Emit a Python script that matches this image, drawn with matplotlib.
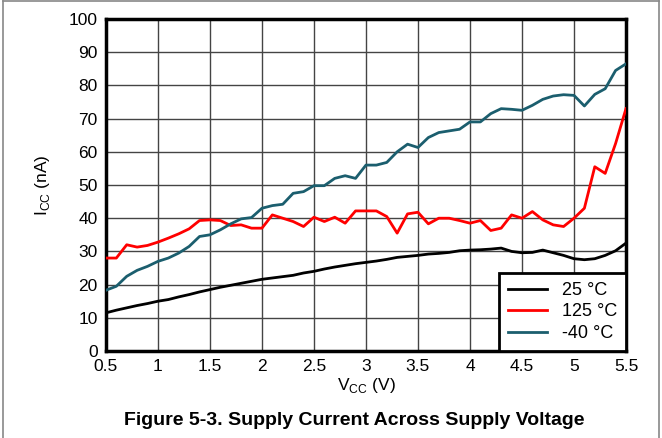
import numpy as np
import matplotlib
matplotlib.use("Agg")
import matplotlib.pyplot as plt
from matplotlib.lines import Line2D

plt.rcParams['font.family'] = ['Liberation Sans', 'DejaVu Sans']
plt.rcParams['mathtext.fontset'] = 'custom'
plt.rcParams['mathtext.rm'] = 'Liberation Sans'

# -----------------------------
# DATA
# -----------------------------

vcc = [0.5, 0.6, 0.7, 0.8, 0.9, 1.0, 1.1, 1.2, 1.3, 1.4,
       1.5, 1.6, 1.7, 1.8, 1.9, 2.0, 2.1, 2.2, 2.3, 2.4,
       2.5, 2.6, 2.7, 2.8, 2.9, 3.0, 3.1, 3.2, 3.3, 3.4,
       3.5, 3.6, 3.7, 3.8, 3.9, 4.0, 4.1, 4.2, 4.3, 4.4,
       4.5, 4.6, 4.7, 4.8, 4.9, 5.0, 5.1, 5.2, 5.3, 5.4, 5.5]

icc_25 = [11.5, 12.3, 13.0, 13.7, 14.3, 15.0, 15.5, 16.3, 17.0, 17.8,
          18.5, 19.2, 19.8, 20.4, 21.0, 21.6, 22.0, 22.4, 22.8, 23.5,
          24.0, 24.7, 25.3, 25.8, 26.3, 26.7, 27.1, 27.6, 28.2, 28.5,
          28.8, 29.2, 29.4, 29.7, 30.2, 30.4, 30.5, 30.7, 31.0, 30.0,
          29.6, 29.7, 30.4, 29.6, 28.8, 27.8, 27.5, 27.8, 28.8, 30.2, 32.5]

icc_125 = [28.0, 28.0, 32.0, 31.3, 31.8, 32.8, 34.0, 35.3, 36.8, 39.3,
           39.5, 39.3, 37.8, 38.0, 37.0, 37.0, 41.0, 40.0, 39.0, 37.5,
           40.3, 39.0, 40.3, 38.5, 42.2, 42.2, 42.2, 40.5, 35.5, 41.3,
           41.8, 38.3, 40.0, 40.0, 39.3, 38.5, 39.3, 36.3, 37.0, 41.0,
           40.0, 42.0, 39.5, 38.0, 37.5, 40.0, 43.0, 55.5, 53.5, 62.5, 73.0]

icc_m40 = [18.3, 19.5, 22.5, 24.3, 25.5, 27.0, 28.0, 29.5, 31.5, 34.5,
           35.0, 36.5, 38.3, 39.8, 40.2, 43.0, 43.8, 44.2, 47.5, 48.0,
           49.8, 49.8, 52.0, 52.8, 52.0, 56.0, 56.0, 56.8, 60.0, 62.3,
           61.3, 64.3, 65.8, 66.3, 66.8, 69.0, 69.0, 71.5, 73.0, 72.8,
           72.5, 74.0, 75.8, 76.8, 77.2, 77.0, 73.8, 77.3, 79.0, 84.5, 86.5]

labels = ["25 °C", "125 °C", "-40 °C"]
colors = ["black", "#ff0000", "#1b5e6e"]

# -----------------------------
# CHART
# -----------------------------

fig = plt.figure(figsize=(6.62, 4.38), dpi=100)
ax = fig.add_axes([0.160, 0.1986, 0.7856, 0.758])

ax.plot(vcc, icc_25, color=colors[0], lw=2, label=labels[0], zorder=3)
ax.plot(vcc, icc_125, color=colors[1], lw=2, label=labels[1], zorder=3)
ax.plot(vcc, icc_m40, color=colors[2], lw=2, label=labels[2], zorder=3)

ax.set_xlim(0.5, 5.5)
ax.set_ylim(0, 100)
ax.set_xticks(np.arange(0.5, 5.51, 0.5))
ax.set_xticklabels(["0.5", "1", "1.5", "2", "2.5", "3", "3.5", "4", "4.5", "5", "5.5"])
ax.set_yticks(np.arange(0, 101, 10))
ax.tick_params(length=0, labelsize=12.5, pad=6)
ax.grid(True, color="#444444", lw=1)

for s in ax.spines.values():
    s.set_linewidth(2.5)
    s.set_color("black")

ax.set_xlabel(r"V$_{\mathregular{CC}}$ (V)", fontsize=12.5, labelpad=1)
ax.set_ylabel(r"I$_{\mathregular{CC}}$ (nA)", fontsize=12.5, labelpad=12)

leg = ax.legend(loc="lower right", fontsize=13, fancybox=False, framealpha=1,
                borderaxespad=0, handlelength=2.2, labelspacing=0.25,
                borderpad=0.5, handletextpad=0.8)
leg.get_frame().set_edgecolor("black")
leg.get_frame().set_linewidth(2)

fig.text(0.535, 0.04, "Figure 5-3. Supply Current Across Supply Voltage",
         ha="center", va="center", fontsize=14, fontweight="bold")

# outer frame
fig.add_artist(Line2D([0.005, 0.005], [0, 0.998], color="#888888", lw=1.2))
fig.add_artist(Line2D([0.995, 0.995], [0, 0.998], color="#888888", lw=1.2))
fig.add_artist(Line2D([0.005, 0.995], [0.998, 0.998], color="#888888", lw=1.2))

plt.savefig("out.png", dpi=100)
